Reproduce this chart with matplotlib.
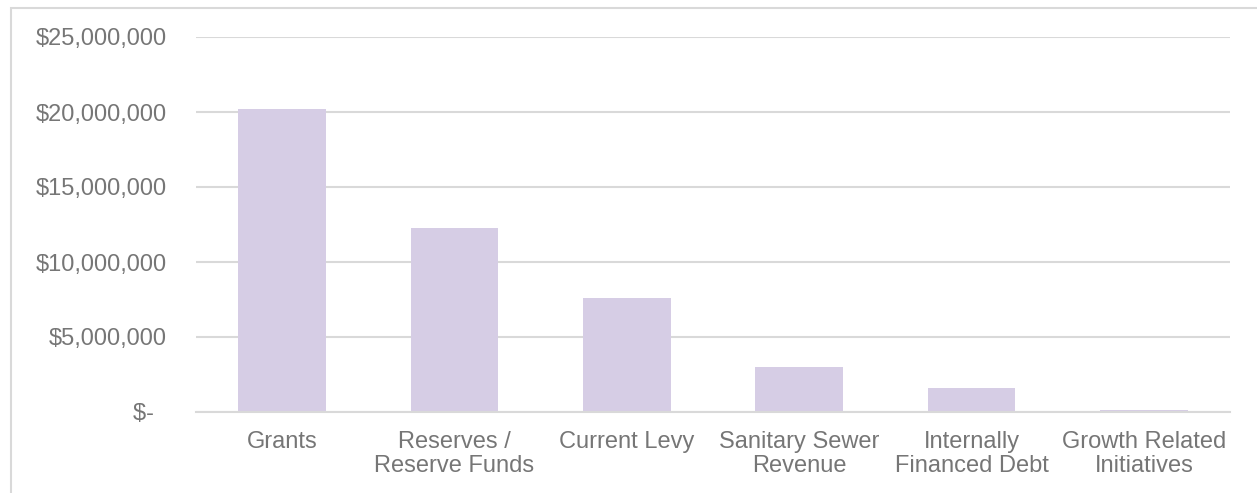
import matplotlib.pyplot as plt
from matplotlib.patches import Rectangle
from matplotlib.ticker import FuncFormatter

# Funding sources and amounts
categories = ["Grants", "Reserves /\nReserve Funds", "Current Levy", "Sanitary Sewer\nRevenue",
              "Internally\nFinanced Debt", "Growth Related\nInitiatives"]
amounts = [20200000, 12270000, 7600000, 3000000, 1620000, 150000]
y_ticks = [0, 5000000, 10000000, 15000000, 20000000, 25000000]

plt.rcParams['font.family'] = ['Liberation Sans', 'DejaVu Sans']
text_color = '#767676'
grid_color = '#d9d9d9'

fig = plt.figure(figsize=(12.57, 4.93), dpi=100)
ax = fig.add_axes([196 / 1257, 1 - 412 / 493, (1230 - 196) / 1257, (412 - 37) / 493])

ax.bar(range(len(categories)), amounts, width=0.51, color='#d6cde5', zorder=3)

ax.set_xlim(-0.5, len(categories) - 0.5)
ax.set_ylim(0, 25000000)
ax.set_yticks(y_ticks)


def money(v, pos):
    if v == 0:
        return "$-  "
    return "${:,.0f}".format(v)


ax.yaxis.set_major_formatter(FuncFormatter(money))
ax.set_xticks(range(len(categories)))
ax.set_xticklabels(categories, linespacing=1.1)

ax.tick_params(axis='y', length=0, pad=21, labelsize=17, labelcolor=text_color)
ax.tick_params(axis='x', length=0, pad=14, labelsize=17, labelcolor=text_color)
ax.grid(axis='y', color=grid_color, linewidth=1.5, zorder=0)
for side in ['top', 'right', 'left']:
    ax.spines[side].set_visible(False)
ax.spines['bottom'].set_color(grid_color)
ax.spines['bottom'].set_linewidth(1.5)
ax.spines['bottom'].set_zorder(4)

# outer chart frame, cut off at right and bottom
fig.patches.append(Rectangle((11 / 1257, -0.1), 1.2, 1 - 8 / 493 + 0.1, transform=fig.transFigure,
                             fill=False, edgecolor=grid_color, linewidth=1.5))

fig.savefig("out.png", dpi=100)
